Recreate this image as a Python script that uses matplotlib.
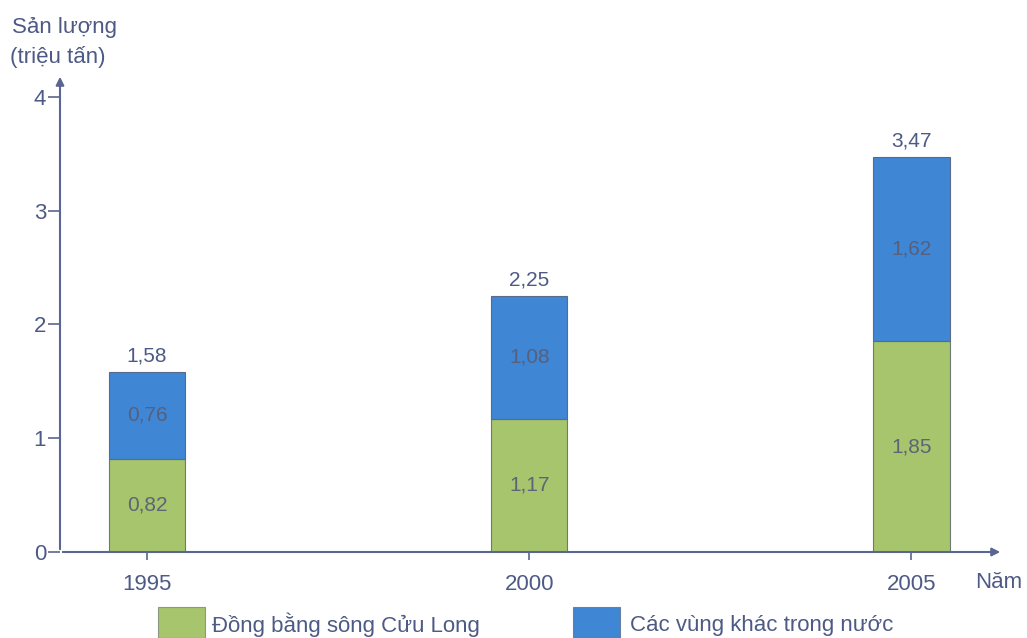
import matplotlib.pyplot as plt
import numpy as np

plt.rcParams['font.family'] = ['Liberation Sans', 'DejaVu Sans']

years = ['1995', '2000', '2005']
dbscl = [0.82, 1.17, 1.85]      # Đồng bằng sông Cửu Long
khac = [0.76, 1.08, 1.62]       # Các vùng khác
tong = [1.58, 2.25, 3.47]
yticks = [0, 1, 2, 3, 4]

txt = '#4e5a86'
axc = '#5b6592'
green = '#a6c56c'
blue = '#3f86d5'

fig = plt.figure(figsize=(10.27, 6.38), dpi=100)
ax = fig.add_axes([60 / 1027, 86 / 638, 943 / 1027, 478 / 638])

x = np.arange(len(years))
w = 0.2
ax.bar(x, dbscl, w, color=green, edgecolor='#6f7a70', linewidth=0.8)
ax.bar(x, khac, w, bottom=dbscl, color=blue, edgecolor='#5a6a8a', linewidth=0.8)

for i in range(len(years)):
    ax.text(x[i], dbscl[i] / 2, f'{dbscl[i]:.2f}'.replace('.', ','), ha='center', va='center',
            fontsize=15, color='#5d6478')
    ax.text(x[i], dbscl[i] + khac[i] / 2, f'{khac[i]:.2f}'.replace('.', ','), ha='center',
            va='center', fontsize=15, color='#55607e')
    ax.text(x[i], tong[i] + 0.06, f'{tong[i]:.2f}'.replace('.', ','), ha='center', va='bottom',
            fontsize=15, color=txt)

ax.set_xlim(-0.228, 2.24)
ax.set_ylim(0, 4.2)
ax.set_xticks(x)
ax.set_xticklabels(years)
ax.set_yticks(yticks)
ax.tick_params(axis='both', colors=axc, labelcolor=txt, labelsize=16, width=1.2)
ax.tick_params(axis='x', length=6, pad=10)
ax.tick_params(axis='y', length=9, pad=1)
for s in ax.spines.values():
    s.set_visible(False)

# axes with arrows
ax.annotate('', xy=(1.0, 0), xytext=(0, 0), xycoords='axes fraction',
            arrowprops=dict(arrowstyle='-|>', color=axc, lw=1.5, mutation_scale=12))
ax.annotate('', xy=(0, 1.0), xytext=(0, 0), xycoords='axes fraction',
            arrowprops=dict(arrowstyle='-|>', color=axc, lw=1.5, mutation_scale=12))

fig.text(12 / 1027, 1 - 27 / 638, 'Sản lượng', fontsize=16, color=txt, ha='left', va='center')
fig.text(10 / 1027, 1 - 57 / 638, '(triệu tấn)', fontsize=16, color=txt, ha='left', va='center')
fig.text(975 / 1027, 1 - 583 / 638, 'Năm', fontsize=16, color=txt, ha='left', va='center')

# legend
fig.patches.append(plt.Rectangle((158 / 1027, 0), 47 / 1027, 31 / 638, transform=fig.transFigure,
                                 facecolor=green, edgecolor='#8a9a80', linewidth=0.8))
fig.text(212 / 1027, 1 - 625 / 638, 'Đồng bằng sông Cửu Long', fontsize=16, color=txt,
         ha='left', va='center')
fig.patches.append(plt.Rectangle((573 / 1027, 0), 47 / 1027, 31 / 638, transform=fig.transFigure,
                                 facecolor=blue, edgecolor='#6a80a0', linewidth=0.8))
fig.text(630 / 1027, 1 - 625 / 638, 'Các vùng khác trong nước', fontsize=16, color=txt,
         ha='left', va='center')

fig.savefig('out.png', dpi=100, facecolor='white')
